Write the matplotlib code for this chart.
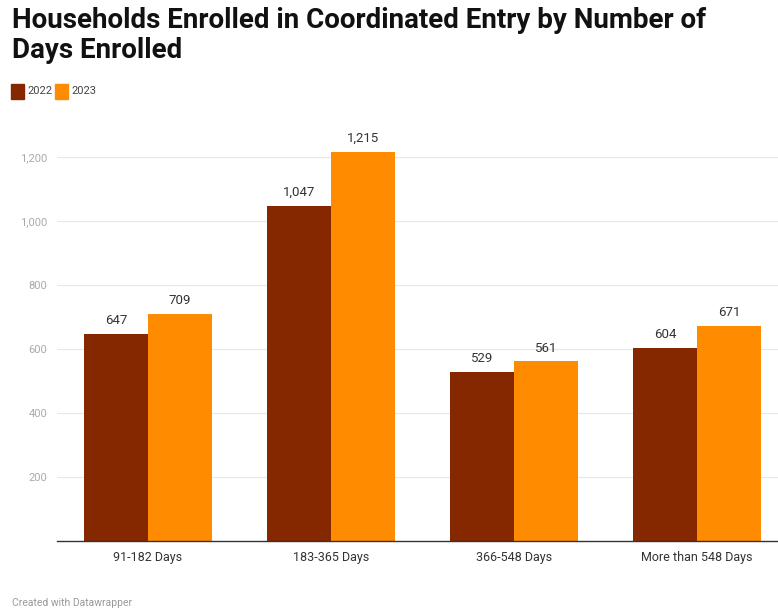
import numpy as np
import matplotlib.pyplot as plt

plt.rcParams['font.family'] = ['Roboto', 'DejaVu Sans']

categories = ['91-182 Days', '183-365 Days', '366-548 Days', 'More than 548 Days']
years = ['2022', '2023']
values_2022 = [647, 1047, 529, 604]
values_2023 = [709, 1215, 561, 671]
yticks = [200, 400, 600, 800, 1000, 1200]

colors = ['#852800', '#ff8c00']
W, H = 778, 613

fig = plt.figure(figsize=(W / 100, H / 100), dpi=100)
ax = fig.add_axes([57 / W, 72 / H, (W - 57) / W, 400 / H])

x = np.arange(len(categories))
bw = 0.35
for off, vals, c in [(-bw / 2, values_2022, colors[0]), (bw / 2, values_2023, colors[1])]:
    bars = ax.bar(x + off, vals, width=bw, color=c, zorder=2)
    for b, v in zip(bars, vals):
        ax.annotate(f'{v:,}', (b.get_x() + b.get_width() / 2, v),
                    xytext=(0, 5), textcoords='offset points',
                    ha='center', va='bottom', fontsize=9.5, color='#333333')

ax.set_xlim(-0.497, 3.443)
ax.set_ylim(0, 1250)
ax.set_yticks(yticks)
ax.set_yticklabels([f'{t:,}' for t in yticks])
ax.set_xticks(x)
ax.set_xticklabels(categories)
ax.tick_params(axis='y', length=0, pad=7, labelsize=8, labelcolor='#aaaaaa')
ax.tick_params(axis='x', length=0, pad=7, labelsize=9, labelcolor='#333333')
ax.grid(axis='y', color='#e8e8e8', linewidth=0.8, zorder=0)
for s in ['top', 'right', 'left']:
    ax.spines[s].set_visible(False)
ax.spines['bottom'].set_color('#333333')
ax.spines['bottom'].set_linewidth(1)
ax.spines['bottom'].set_zorder(3)

fig.text(12 / W, 1 - 7 / H, 'Households Enrolled in Coordinated Entry by Number of\nDays Enrolled',
         ha='left', va='top', fontsize=20, fontweight='bold', color='#111111', linespacing=1.12)

# legend swatches
for i, (yr, c) in enumerate(zip(years, colors)):
    x0 = 11 + i * 44
    fig.patches.append(plt.Rectangle((x0 / W, 1 - 99 / H), 13 / W, 15 / H,
                                     transform=fig.transFigure, color=c, figure=fig))
    fig.text((x0 + 16) / W, 1 - 91 / H, yr, ha='left', va='center', fontsize=8, color='#444444')

fig.text(12 / W, 1 - 603 / H, 'Created with Datawrapper', ha='left', va='center',
         fontsize=7.5, color='#999999')

fig.savefig('out.png', dpi=100)
